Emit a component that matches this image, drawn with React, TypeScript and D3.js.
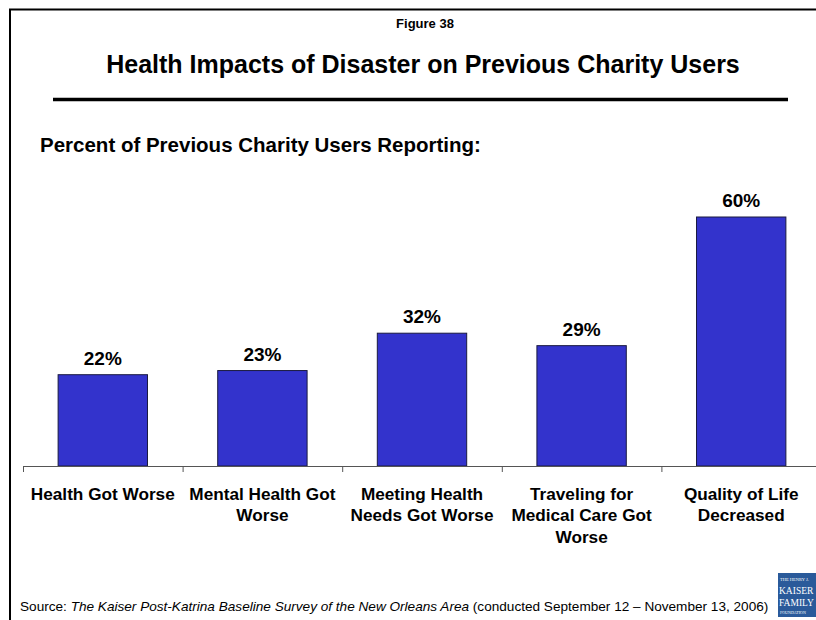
import React from "react";
import * as d3 from "d3";

const categories: string[][] = [
  ["Health Got Worse"],
  ["Mental Health Got", "Worse"],
  ["Meeting Health", "Needs Got Worse"],
  ["Traveling for", "Medical Care Got", "Worse"],
  ["Quality of Life", "Decreased"],
];
const categoryKeys = ["health", "mental", "meeting", "traveling", "quality"];
const values = [22, 23, 32, 29, 60];

export default function App() {
  const W = 816, H = 620;
  const x = d3.scaleBand<string>().domain(categoryKeys).range([23, 821]).paddingInner(0.44).paddingOuter(0.22);
  const y = d3.scaleLinear().domain([0, 60]).range([466, 217]);
  const font = "Arial, 'Liberation Sans', Helvetica, sans-serif";
  const ticks = d3.range(categoryKeys.length + 1).map((i) => 23 + i * x.step());
  const serif = "'Liberation Serif', 'DejaVu Serif', serif";
  return (
    <svg width={W} height={H} style={{ position: "absolute", left: 0, top: 0, background: "#fff" }} fontFamily={font}>
      <rect x={0} y={0} width={W} height={H} fill="#fff" />
      <path d={`M10,${H} V9.5 H${W}`} fill="none" stroke="#000" strokeWidth={2} />
      <text x={425} y={28} textAnchor="middle" fontSize={13} fontWeight="bold">Figure 38</text>
      <text x={423} y={73} textAnchor="middle" fontSize={25} fontWeight="bold">Health Impacts of Disaster on Previous Charity Users</text>
      <line x1={53} x2={788} y1={99.5} y2={99.5} stroke="#000" strokeWidth={3.5} />
      <text x={40} y={152} fontSize={20.5} fontWeight="bold">Percent of Previous Charity Users Reporting:</text>
      {categoryKeys.map((k, i) => (
        <g key={k}>
          <rect x={x(k)} y={y(values[i])} width={x.bandwidth()} height={y(0) - y(values[i])} fill="#3333CC" stroke="#1a1a40" strokeWidth={1} />
          <text x={(x(k) as number) + x.bandwidth() / 2} y={y(values[i]) - 10} textAnchor="middle" fontSize={19} fontWeight="bold">{values[i]}%</text>
          {categories[i].map((line, j) => (
            <text key={j} x={(x(k) as number) + x.bandwidth() / 2} y={499.5 + j * 21.5} textAnchor="middle" fontSize={17.2} fontWeight="bold">{line}</text>
          ))}
        </g>
      ))}
      <line x1={23} x2={821} y1={466.5} y2={466.5} stroke="#555" strokeWidth={1} />
      {ticks.map((t, i) => (
        <line key={i} x1={t + 0.5} x2={t + 0.5} y1={466} y2={472} stroke="#555" strokeWidth={1} />
      ))}
      <text x={20} y={611} fontSize={13.6}>
        <tspan>Source: </tspan>
        <tspan fontStyle="italic">The Kaiser Post-Katrina Baseline Survey of the New Orleans Area</tspan>
        <tspan> (conducted September 12 – November 13, 2006)</tspan>
      </text>
      <g>
        <rect x={778} y={573} width={40} height={44} fill="#2a5a9a" />
        <text x={780} y={581} fontSize={4.5} fill="#fff" fontFamily={serif}>THE HENRY J.</text>
        <text x={779} y={594} fontSize={9.5} fill="#fff" fontFamily={serif}>KAISER</text>
        <text x={779} y={606} fontSize={9.5} fill="#fff" fontFamily={serif}>FAMILY</text>
        <text x={780} y={614} fontSize={4} fill="#fff" fontFamily={serif}>FOUNDATION</text>
      </g>
    </svg>
  );
}
